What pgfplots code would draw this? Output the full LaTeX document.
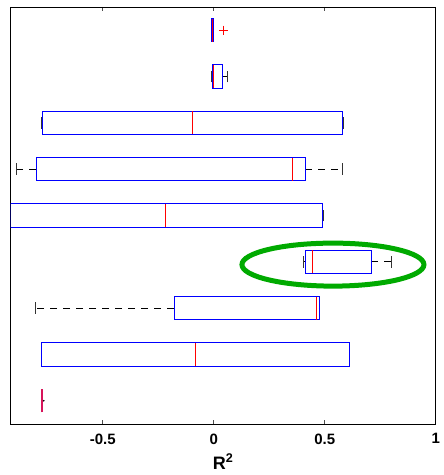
\documentclass[border=0pt]{standalone}
\usepackage{fontspec}
\setmainfont{Liberation Sans}
\usepackage{pgfplots}
\pgfplotsset{compat=1.18}
\usepgfplotslibrary{statistics}
\definecolor{mlgreen}{RGB}{0,170,0}
\definecolor{rownine}{RGB}{215,20,90}
\begin{document}
\begin{tikzpicture}
\begin{axis}[
  scale only axis,
  width=425pt, height=417pt,
  xmin=-0.915, xmax=1, ymin=0.5, ymax=9.5,
  xtick={-0.5,0,0.5,1},
  xticklabels={-0.5,0,0.5,1},
  ytick=\empty,
  tick align=inside,
  major tick length=4pt,
  axis line style={black, line width=0.9pt},
  tick style={black!70, line width=0.8pt},
  /pgf/number format/assume math mode=true,
  tick label style={font=\bfseries\fontsize{15}{15}\selectfont},
  xticklabel style={yshift=-6pt},
  xlabel={\textbf{R\textsuperscript{2}}},
  xlabel style={font=\fontsize{18}{18}\selectfont, yshift=-3pt},
  clip=true,
  boxplot/box extend=0.5,
  boxplot/whisker extend=0.25,
  boxplot/every box/.style={draw=blue, solid, line width=0.9pt, fill=none},
  boxplot/every median/.style={draw=red, solid, line width=0.9pt},
  boxplot/draw/lower whisker/.code={%
    \draw[black, line width=0.7pt, dash pattern=on 7pt off 6pt]
      (boxplot cs:\pgfplotsboxplotvalue{lower quartile}) -- (boxplot cs:\pgfplotsboxplotvalue{lower whisker});
    \draw[black!80, solid, line width=0.8pt]
      (boxplot whisker cs:\pgfplotsboxplotvalue{lower whisker},0) -- (boxplot whisker cs:\pgfplotsboxplotvalue{lower whisker},1);
  },
  boxplot/draw/upper whisker/.code={%
    \draw[black, line width=0.7pt, dash pattern=on 7pt off 6pt]
      (boxplot cs:\pgfplotsboxplotvalue{upper quartile}) -- (boxplot cs:\pgfplotsboxplotvalue{upper whisker});
    \draw[black!80, solid, line width=0.8pt]
      (boxplot whisker cs:\pgfplotsboxplotvalue{upper whisker},0) -- (boxplot whisker cs:\pgfplotsboxplotvalue{upper whisker},1);
  },
]
% row 1 (top)
\addplot[boxplot prepared={lower whisker=-0.012, lower quartile=-0.012, median=-0.008, upper quartile=-0.002, upper whisker=-0.002, draw position=9}, draw=blue, solid] coordinates {};
% row 2
\addplot[boxplot prepared={lower whisker=-0.012, lower quartile=-0.008, median=-0.003, upper quartile=0.037, upper whisker=0.062, draw position=8}, draw=blue, solid] coordinates {};
% row 3
\addplot[boxplot prepared={lower whisker=-0.775, lower quartile=-0.773, median=-0.098, upper quartile=0.580, upper whisker=0.582, draw position=7}, draw=blue, solid] coordinates {};
% row 4
\addplot[boxplot prepared={lower whisker=-0.889, lower quartile=-0.800, median=0.356, upper quartile=0.413, upper whisker=0.578, draw position=6}, draw=blue, solid] coordinates {};
% row 5
\addplot[boxplot prepared={lower whisker=-0.920, lower quartile=-0.915, median=-0.216, upper quartile=0.490, upper whisker=0.492, draw position=5}, draw=blue, solid] coordinates {};
% row 6
\addplot[boxplot prepared={lower whisker=0.405, lower quartile=0.414, median=0.444, upper quartile=0.710, upper whisker=0.800, draw position=4}, draw=blue, solid] coordinates {};
% row 7
\addplot[boxplot prepared={lower whisker=-0.803, lower quartile=-0.179, median=0.461, upper quartile=0.474, upper whisker=0.476, draw position=3}, draw=blue, solid] coordinates {};
% row 8
\addplot[boxplot prepared={lower whisker=-0.777, lower quartile=-0.775, median=-0.081, upper quartile=0.611, upper whisker=0.613, draw position=2}, draw=blue, solid] coordinates {};
% row 9: all statistics equal (-0.775): a single line
\addplot[draw=rownine, solid, line width=1.6pt, mark=none] coordinates {(-0.775,0.75) (-0.775,1.25)};
\addplot[black, only marks, mark=*, mark size=0.6pt] coordinates {(-0.766,1)};
% outlier
\addplot[only marks, mark=+, mark size=4.5pt, red, mark options={line width=0.8pt}] coordinates {(0.044,9)};
% highlight
\draw[mlgreen, line width=5pt] (axis cs:0.537,3.94) ellipse [x radius=91pt, y radius=21.5pt];
\end{axis}
\path[use as bounding box] (-10.7pt,-51pt) rectangle (428.3pt,424pt);
\end{tikzpicture}
\end{document}
